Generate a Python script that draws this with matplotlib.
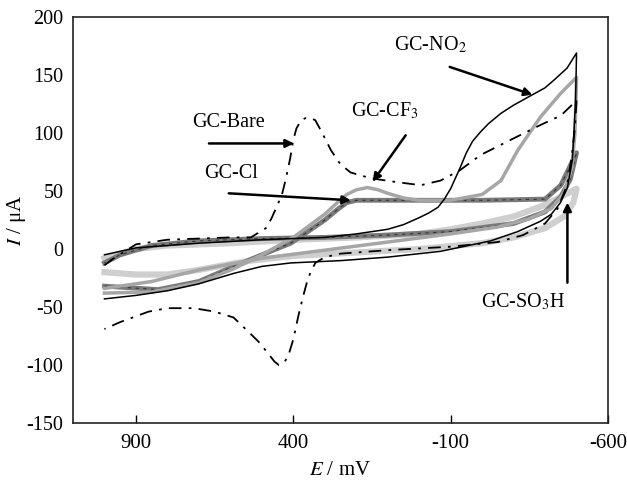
import matplotlib
matplotlib.use("Agg")
import matplotlib.pyplot as plt

plt.rcParams['font.family'] = ['Liberation Serif', 'DejaVu Serif']
plt.rcParams['mathtext.fontset'] = 'stix'
plt.rcParams['axes.unicode_minus'] = False

# potential (mV) / current (uA), one list per branch
bare_fwd_E = [1000, 970, 900, 800, 700, 600, 535, 487, 470, 450, 435, 424, 410, 400, 390, 375, 360, 345, 330, 310, 280, 250, 218, 154, 80, -5, -68, -130, -195, -290, -386, -450, -500]
bare_fwd_I = [-14, -8, 4, 8, 9, 10, 10, 18, 26, 38, 48, 60, 78, 94, 104, 111, 113, 113, 111, 101, 85, 73, 66, 61, 58, 55, 59, 68, 81, 94, 107, 115, 128]
bare_rev_E = [-500, -495, -485, -470, -440, -400, -330, -250, -100, 100, 250, 300, 330, 345, 355, 370, 385, 400, 417, 430, 446, 460, 480, 510, 540, 590, 650, 716, 800, 860, 900, 950, 1000]
bare_rev_I = [128, 105, 80, 55, 35, 22, 12, 6, 2, -1, -4, -7, -12, -20, -27, -42, -59, -78, -93, -98, -100, -97, -90, -80, -72, -59, -54, -51, -51, -54, -58, -63, -69]

no2_fwd_E = [1000, 900, 700, 500, 300, 200, 100, 50, 0, -30, -60, -80, -100, -130, -150, -170, -195, -220, -260, -300, -360, -400, -430, -470, -500]
no2_fwd_I = [-5, 1, 5, 8, 10, 13, 17, 21, 27, 31, 36, 43, 52, 70, 83, 93, 101, 108, 117, 124, 133, 139, 146, 156, 169]
no2_rev_E = [-500, -497, -487, -471, -449, -420, -386, -313, -227, -68, 100, 249, 408, 500, 589, 700, 800, 900, 1000]
no2_rev_I = [169, 128, 77, 53, 40, 30, 24, 15, 7, -2, -7, -10, -12, -15, -21, -30, -36, -40, -43]

cf3_fwd_E = [1000, 850, 700, 589, 500, 400, 300, 260, 230, 200, 164, 130, 100, 50, 0, -100, -200, -260, -313, -386, -449, -500]
cf3_fwd_I = [-38, -37, -29, -17, -5, 10, 30, 40, 47, 51, 53, 51, 48, 44, 42, 42, 47, 59, 85, 114, 134, 148]
cf3_rev_E = [-500, -495, -485, -460, -420, -350, -250, -100, 100, 300, 500, 700, 850, 1000]
cf3_rev_I = [148, 100, 70, 48, 35, 26, 19, 13, 6, -1, -8, -18, -28, -34]

cl_fwd_E = [1000, 830, 700, 589, 500, 408, 300, 260, 230, 200, 150, 0, -200, -400, -450, -500]
cl_fwd_I = [-32, -35, -28, -15, -5, 5, 25, 34, 40, 42, 42, 42, 42, 43, 55, 83]
cl_rev_E = [-500, -480, -450, -400, -300, -100, 100, 300, 500, 700, 850, 950, 1000]
cl_rev_I = [83, 60, 45, 32, 22, 15, 12, 10, 9, 7, 3, -5, -12]

so3h_fwd_E = [1000, 900, 800, 600, 400, 200, 0, -100, -200, -300, -400, -500]
so3h_fwd_I = [-8, 0, 3, 5, 8, 10, 13, 17, 22, 28, 38, 52]
so3h_rev_E = [-500, -490, -460, -400, -300, -200, 0, 200, 400, 535, 600, 700, 800, 900, 1000]
so3h_rev_I = [52, 40, 28, 18, 10, 5, 0, -3, -6, -10, -13, -18, -22, -22, -20]

x_ticks = [900, 400, -100, -600]
y_ticks = [-150, -100, -50, 0, 50, 100, 150, 200]

fig = plt.figure(figsize=(6.27, 4.82), dpi=100)
ax = fig.add_axes([0.1164, 0.1224, 0.8533, 0.8423])

# light stippled band first, darker ones on top
ax.plot(so3h_fwd_E + so3h_rev_E, so3h_fwd_I + so3h_rev_I, color='#cfcfcf', lw=4.5, solid_joinstyle='round')
ax.plot(cl_fwd_E + cl_rev_E, cl_fwd_I + cl_rev_I, color='#7a7a7a', lw=3.5, solid_joinstyle='round')
ax.plot(cl_fwd_E + cl_rev_E, cl_fwd_I + cl_rev_I, color='#333333', lw=0.8, linestyle=(0, (3, 4)))
ax.plot(cf3_fwd_E + cf3_rev_E, cf3_fwd_I + cf3_rev_I, color='#a6a6a6', lw=2.5, solid_joinstyle='round')
ax.plot(no2_fwd_E + no2_rev_E, no2_fwd_I + no2_rev_I, color='black', lw=1.1, solid_joinstyle='round')
ax.plot(bare_fwd_E, bare_fwd_I, color='black', lw=1.3, linestyle=(0, (7, 4, 1.5, 4)))
ax.plot(bare_rev_E, bare_rev_I, color='black', lw=1.3, linestyle=(0, (7, 4, 1.5, 4)))

ax.set_xlim(1100, -600)
ax.set_ylim(-150, 200)
ax.set_xticks(x_ticks)
ax.set_yticks(y_ticks)
ax.tick_params(axis='x', direction='in', length=6, width=1, pad=8, labelsize=15)
ax.tick_params(axis='y', length=0, pad=7, labelsize=14.5)
for s in ax.spines.values():
    s.set_linewidth(1.2)
    s.set_color('#222222')

ax.set_xlabel(r'$E$ / mV', fontsize=15, labelpad=6)
ax.set_ylabel(r'$I$ / μA', fontsize=15)
ax.yaxis.set_label_coords(-0.084, 0.5)

arrow = dict(arrowstyle='-|>', color='black', lw=1.8, mutation_scale=12, shrinkA=0, shrinkB=0)
fs = 14.5
ax.text(605, 109, 'GC-Bare', fontsize=fs, ha='center', va='center')
ax.annotate('', xy=(398, 91), xytext=(668, 91), arrowprops=arrow)
ax.text(598, 65, 'GC-Cl', fontsize=fs, ha='center', va='center')
ax.annotate('', xy=(217, 42), xytext=(605, 48), arrowprops=arrow)
ax.text(110, 119, r'GC-CF$_3$', fontsize=fs, ha='center', va='center')
ax.annotate('', xy=(148, 58), xytext=(43, 98), arrowprops=arrow)
ax.text(-36, 176, r'GC-NO$_2$', fontsize=fs, ha='center', va='center')
ax.annotate('', xy=(-360, 133), xytext=(-97, 157), arrowprops=arrow)
ax.text(-332, -46, r'GC-SO$_3$H', fontsize=fs, ha='center', va='center')
ax.annotate('', xy=(-471, 40), xytext=(-471, -29), arrowprops=arrow)

fig.savefig('out.png', dpi=100)
